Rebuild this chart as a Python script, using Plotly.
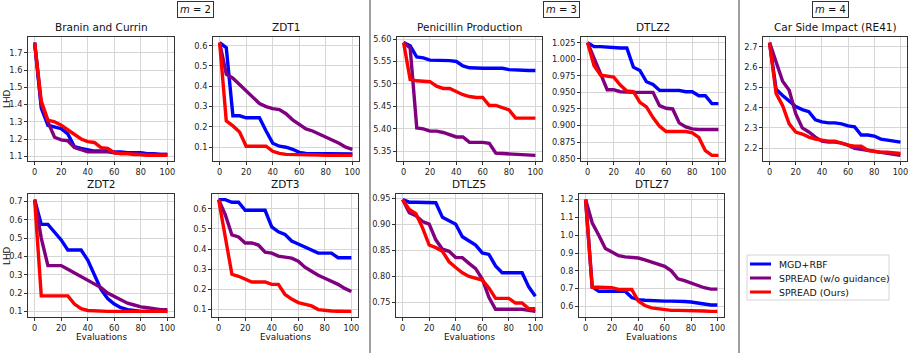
import plotly.graph_objs as go

# evaluations (x axis)
evals = [0, 5, 10, 15, 20, 25, 30, 35, 40, 45, 50, 55, 60, 65, 70, 75, 80, 85, 90, 95, 100]

series_names = ["MGD+RBF", "SPREAD (w/o guidance)", "SPREAD (Ours)"]
series_colors = ["blue", "purple", "red"]

# Branin and Currin
branin_mgd = [1.76, 1.38, 1.28, 1.27, 1.26, 1.23, 1.155, 1.145, 1.135, 1.13, 1.13, 1.13, 1.125, 1.125, 1.12, 1.12, 1.12, 1.115, 1.115, 1.11, 1.11]
branin_nog = [1.76, 1.40, 1.30, 1.21, 1.195, 1.19, 1.15, 1.135, 1.125, 1.125, 1.125, 1.125, 1.12, 1.115, 1.115, 1.115, 1.11, 1.11, 1.11, 1.11, 1.11]
branin_ours = [1.76, 1.42, 1.31, 1.30, 1.28, 1.255, 1.225, 1.20, 1.185, 1.18, 1.15, 1.145, 1.12, 1.115, 1.115, 1.11, 1.11, 1.105, 1.105, 1.105, 1.105]

# ZDT1
zdt1_mgd = [0.615, 0.59, 0.255, 0.255, 0.245, 0.245, 0.245, 0.18, 0.12, 0.105, 0.10, 0.09, 0.075, 0.07, 0.07, 0.07, 0.068, 0.068, 0.067, 0.067, 0.067]
zdt1_nog = [0.615, 0.46, 0.44, 0.41, 0.38, 0.35, 0.315, 0.30, 0.29, 0.285, 0.265, 0.235, 0.21, 0.19, 0.18, 0.165, 0.15, 0.135, 0.12, 0.10, 0.09]
zdt1_ours = [0.615, 0.23, 0.205, 0.175, 0.105, 0.105, 0.105, 0.105, 0.08, 0.07, 0.065, 0.065, 0.065, 0.065, 0.063, 0.062, 0.06, 0.06, 0.06, 0.06, 0.06]

# Penicillin Production
pen_mgd = [5.592, 5.585, 5.56, 5.558, 5.553, 5.553, 5.553, 5.552, 5.55, 5.54, 5.536, 5.535, 5.535, 5.535, 5.535, 5.535, 5.532, 5.531, 5.531, 5.53, 5.53]
pen_nog = [5.592, 5.58, 5.402, 5.40, 5.395, 5.395, 5.392, 5.386, 5.382, 5.382, 5.37, 5.37, 5.37, 5.368, 5.346, 5.345, 5.344, 5.343, 5.342, 5.341, 5.341]
pen_ours = [5.592, 5.51, 5.507, 5.506, 5.505, 5.495, 5.49, 5.49, 5.483, 5.476, 5.472, 5.47, 5.47, 5.452, 5.452, 5.446, 5.442, 5.424, 5.424, 5.424, 5.424]

# DTLZ2
dtlz2_mgd = [1.025, 1.019, 1.019, 1.018, 1.017, 1.017, 1.017, 0.988, 0.983, 0.966, 0.962, 0.953, 0.953, 0.953, 0.953, 0.951, 0.951, 0.945, 0.945, 0.933, 0.933]
dtlz2_nog = [1.025, 1.0, 0.978, 0.954, 0.954, 0.951, 0.95, 0.95, 0.95, 0.95, 0.95, 0.93, 0.926, 0.925, 0.904, 0.898, 0.895, 0.894, 0.894, 0.894, 0.894]
dtlz2_ours = [1.025, 0.99, 0.976, 0.975, 0.973, 0.961, 0.952, 0.951, 0.935, 0.928, 0.912, 0.899, 0.891, 0.891, 0.891, 0.891, 0.889, 0.882, 0.862, 0.855, 0.855]

# Car Side Impact (RE41)
car_mgd = [2.72, 2.49, 2.46, 2.43, 2.405, 2.39, 2.38, 2.34, 2.33, 2.325, 2.325, 2.32, 2.31, 2.305, 2.265, 2.265, 2.26, 2.245, 2.24, 2.235, 2.23]
car_nog = [2.72, 2.63, 2.53, 2.485, 2.37, 2.30, 2.28, 2.255, 2.235, 2.23, 2.23, 2.225, 2.215, 2.20, 2.195, 2.19, 2.185, 2.18, 2.175, 2.17, 2.165]
car_ours = [2.72, 2.47, 2.41, 2.32, 2.28, 2.27, 2.255, 2.245, 2.24, 2.235, 2.235, 2.225, 2.215, 2.21, 2.21, 2.19, 2.185, 2.18, 2.18, 2.178, 2.175]

# ZDT2
zdt2_mgd = [0.71, 0.575, 0.575, 0.535, 0.49, 0.435, 0.435, 0.435, 0.38, 0.30, 0.22, 0.17, 0.14, 0.12, 0.11, 0.105, 0.10, 0.10, 0.10, 0.10, 0.10]
zdt2_nog = [0.71, 0.50, 0.35, 0.35, 0.35, 0.33, 0.31, 0.29, 0.27, 0.25, 0.23, 0.20, 0.18, 0.16, 0.145, 0.135, 0.125, 0.12, 0.115, 0.11, 0.11]
zdt2_ours = [0.71, 0.185, 0.185, 0.185, 0.185, 0.185, 0.14, 0.115, 0.105, 0.102, 0.10, 0.10, 0.10, 0.10, 0.10, 0.10, 0.10, 0.10, 0.10, 0.10, 0.10]

# ZDT3
zdt3_mgd = [0.645, 0.645, 0.632, 0.632, 0.592, 0.592, 0.592, 0.592, 0.51, 0.485, 0.472, 0.44, 0.425, 0.41, 0.395, 0.38, 0.38, 0.38, 0.357, 0.357, 0.357]
zdt3_nog = [0.645, 0.57, 0.47, 0.46, 0.43, 0.43, 0.42, 0.385, 0.38, 0.365, 0.36, 0.355, 0.34, 0.31, 0.29, 0.27, 0.255, 0.24, 0.225, 0.205, 0.19]
zdt3_ours = [0.645, 0.46, 0.275, 0.265, 0.25, 0.237, 0.237, 0.237, 0.225, 0.225, 0.175, 0.152, 0.135, 0.125, 0.118, 0.10, 0.095, 0.093, 0.092, 0.091, 0.091]

# DTLZ5
dtlz5_mgd = [0.947, 0.942, 0.942, 0.942, 0.941, 0.941, 0.913, 0.906, 0.90, 0.876, 0.868, 0.86, 0.845, 0.842, 0.82, 0.807, 0.807, 0.807, 0.807, 0.78, 0.762]
dtlz5_nog = [0.947, 0.922, 0.916, 0.905, 0.90, 0.87, 0.852, 0.848, 0.836, 0.836, 0.825, 0.815, 0.795, 0.76, 0.737, 0.737, 0.737, 0.737, 0.737, 0.735, 0.733]
dtlz5_ours = [0.947, 0.928, 0.92, 0.893, 0.86, 0.855, 0.848, 0.828, 0.817, 0.807, 0.80, 0.797, 0.793, 0.778, 0.758, 0.758, 0.758, 0.749, 0.749, 0.738, 0.738]

# DTLZ7
dtlz7_mgd = [1.2, 0.71, 0.685, 0.685, 0.685, 0.685, 0.685, 0.65, 0.638, 0.635, 0.632, 0.63, 0.63, 0.63, 0.63, 0.628, 0.625, 0.62, 0.615, 0.608, 0.608]
dtlz7_nog = [1.2, 1.07, 1.0, 0.925, 0.905, 0.885, 0.878, 0.874, 0.872, 0.862, 0.85, 0.84, 0.825, 0.80, 0.755, 0.745, 0.73, 0.72, 0.705, 0.697, 0.697]
dtlz7_ours = [1.2, 0.708, 0.708, 0.706, 0.705, 0.695, 0.695, 0.695, 0.63, 0.605, 0.592, 0.587, 0.584, 0.578, 0.578, 0.578, 0.577, 0.576, 0.574, 0.572, 0.572]

W, H = 914, 353

# title, series, tick step, tick format, box (left, right, top, bottom) in px
panels = [
    ("Branin and Currin", [branin_mgd, branin_nog, branin_ours], 0.1, ".1f", (28, 174, 37, 161)),
    ("ZDT1", [zdt1_mgd, zdt1_nog, zdt1_ours], 0.1, ".1f", (213, 359, 37, 161)),
    ("Penicillin Production", [pen_mgd, pen_nog, pen_ours], 0.05, ".2f", (397, 542, 37, 161)),
    ("DTLZ2", [dtlz2_mgd, dtlz2_nog, dtlz2_ours], 0.025, ".3f", (581, 725, 37, 161)),
    ("Car Side Impact (RE41)", [car_mgd, car_nog, car_ours], 0.1, ".1f", (763, 907, 37, 161)),
    ("ZDT2", [zdt2_mgd, zdt2_nog, zdt2_ours], 0.1, ".1f", (28, 174, 194, 317)),
    ("ZDT3", [zdt3_mgd, zdt3_nog, zdt3_ours], 0.1, ".1f", (212, 358, 194, 317)),
    ("DTLZ5", [dtlz5_mgd, dtlz5_nog, dtlz5_ours], 0.05, ".2f", (396, 542, 194, 317)),
    ("DTLZ7", [dtlz7_mgd, dtlz7_nog, dtlz7_ours], 0.1, ".1f", (579, 724, 194, 317)),
]

FONT = "DejaVu Sans"
fig = go.Figure()
annotations = []
shapes = []
layout = {}


def px(x, y):
    return x / W, 1 - y / H


for i, (title, series, step, fmt, box) in enumerate(panels):
    n = i + 1
    sfx = "" if n == 1 else str(n)
    left, right, top, bottom = box
    for j, ys in enumerate(series):
        fig.add_trace(go.Scatter(
            x=evals, y=ys, mode="lines",
            line=dict(color=series_colors[j], width=3.4),
            name=series_names[j], showlegend=False,
            xaxis="x" + sfx, yaxis="y" + sfx
        ))
    allv = [v for s in series for v in s]
    lo, hi = min(allv), max(allv)
    pad = (hi - lo) * 0.05
    common = dict(
        showline=True, mirror=True, linecolor="#333", linewidth=1,
        ticks="outside", ticklen=3, tickcolor="#333", tickwidth=1,
        showgrid=True, gridcolor="#d6d6d6", gridwidth=1, zeroline=False,
        automargin=False,
        tickfont=dict(family=FONT, size=8.2, color="#222"),
    )
    layout["xaxis" + sfx] = dict(
        common, domain=[left / W, right / W], anchor="y" + sfx,
        range=[-5, 105], tickvals=[0, 20, 40, 60, 80, 100],
    )
    layout["yaxis" + sfx] = dict(
        common, domain=[1 - bottom / H, 1 - top / H], anchor="x" + sfx,
        range=[lo - pad, hi + pad], dtick=step, tick0=0, tickformat=fmt,
    )
    annotations.append(dict(
        text=title, x=(left + right) / 2 / W, y=1 - (top - 2) / H,
        xref="paper", yref="paper", xanchor="center", yanchor="bottom",
        showarrow=False, font=dict(family=FONT, size=10.5, color="#111"),
    ))
    if i >= 5:
        annotations.append(dict(
            text="Evaluations", x=(left + right) / 2 / W, y=1 - 336.5 / H,
            xref="paper", yref="paper", xanchor="center", yanchor="middle",
            showarrow=False, font=dict(family=FONT, size=8.8, color="#111"),
        ))

for yc in [99, 256]:
    annotations.append(dict(
        text="LHD", x=7 / W, y=1 - yc / H, textangle=-90,
        xref="paper", yref="paper", xanchor="center", yanchor="middle",
        showarrow=False, font=dict(family=FONT, size=8.8, color="#111"),
    ))

for label, xc in [("2", 195), ("3", 561), ("4", 830)]:
    annotations.append(dict(
        text="<i>m</i> = " + label, x=xc / W, y=1 - 9 / H,
        xref="paper", yref="paper", xanchor="center", yanchor="middle",
        showarrow=False, font=dict(family=FONT, size=10, color="#111"),
        bordercolor="#333", borderwidth=1, borderpad=2, bgcolor="white",
    ))

# group separators
for xs in [370, 739]:
    shapes.append(dict(type="line", xref="paper", yref="paper",
                       x0=xs / W, x1=xs / W, y0=0, y1=1,
                       line=dict(color="#808080", width=1.5)))

# legend box
x0, y0 = px(747, 255)
x1, y1 = px(889, 300)
shapes.append(dict(type="rect", xref="paper", yref="paper", x0=x0, x1=x1, y0=y1, y1=y0,
                   line=dict(color="#d4d4d4", width=1), fillcolor="white"))
for j, name in enumerate(series_names):
    yy = 264 + 14 * j
    lx0, ly = px(750, yy)
    lx1, _ = px(771, yy)
    shapes.append(dict(type="line", xref="paper", yref="paper", x0=lx0, x1=lx1, y0=ly, y1=ly,
                       line=dict(color=series_colors[j], width=3)))
    tx, _ = px(777, yy)
    annotations.append(dict(
        text=name, x=tx, y=ly, xref="paper", yref="paper",
        xanchor="left", yanchor="middle", showarrow=False,
        font=dict(family=FONT, size=9.4, color="#111"),
    ))

fig.update_layout(
    width=W, height=H,
    margin=dict(l=0, r=0, t=0, b=0),
    paper_bgcolor="white", plot_bgcolor="white",
    annotations=annotations, shapes=shapes,
    showlegend=False,
    **layout
)

fig.write_html("out.html", config={"displayModeBar": False},
               post_script="document.body.style.margin = '0';")
